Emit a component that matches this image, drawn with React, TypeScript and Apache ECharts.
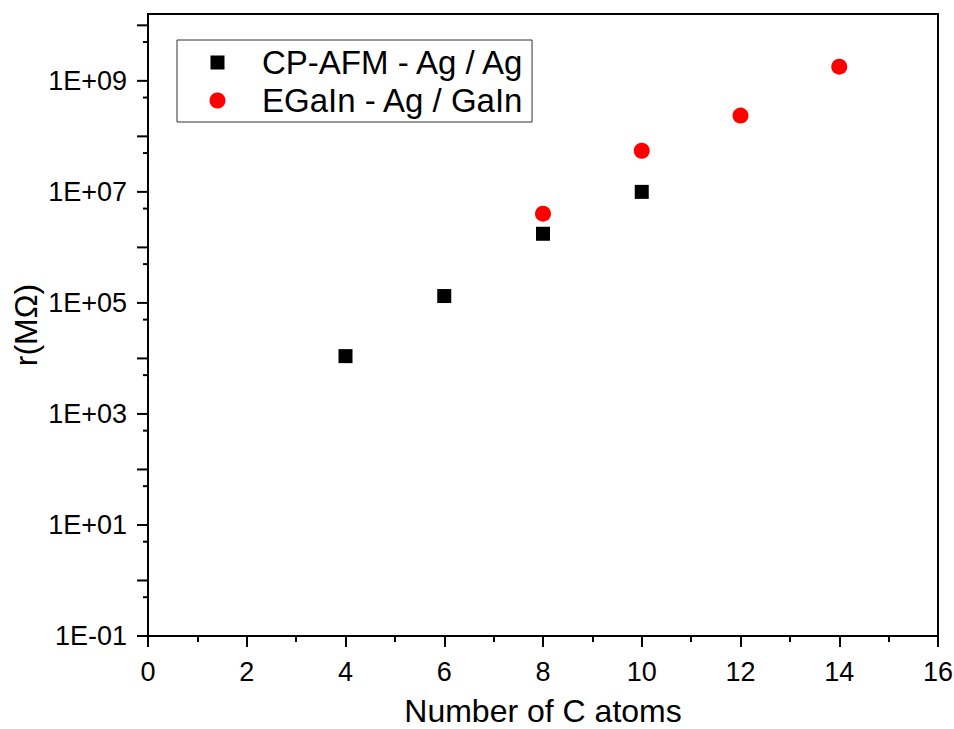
import React, { useEffect, useRef } from "react";
import * as echarts from "echarts";

// ---- data ----
const cpafmName = "CP-AFM - Ag / Ag";
const egainName = "EGaIn - Ag / GaIn";
const cpafmX = [4, 6, 8, 10];
const cpafmY = [1.1e4, 1.33e5, 1.76e6, 1.0e7];
const egainX = [8, 10, 12, 14];
const egainY = [4.05e6, 5.5e7, 2.37e8, 1.8e9];

// axis ranges & tick values
const xMin = 0;
const xMax = 16;
const xInterval = 2;
const yMin = 0.1;
const yMax = 1.6e10;
const yMajorTicks = [1e-1, 1e0, 1e1, 1e2, 1e3, 1e4, 1e5, 1e6, 1e7, 1e8, 1e9, 1e10];
const yMinorTicks = [5e-1, 5e0, 5e1, 5e2, 5e3, 5e4, 5e5, 5e6, 5e7, 5e8, 5e9];
const yLabelExponents = [-1, 1, 3, 5, 7, 9];

const xTitle = "Number of C atoms";
const yTitle = "r(MΩ)";

const FONT = '"Liberation Sans", Arial, Helvetica, sans-serif';

function fmtExp(v: number): string {
  const e = Math.round(v);
  if (Math.abs(v - e) > 1e-6) return "";
  if (yLabelExponents.indexOf(e) < 0) return "";
  const a = Math.abs(e);
  return "1E" + (e < 0 ? "-" : "+") + (a < 10 ? "0" : "") + a;
}

const squareIcon =
  "path://M0,0h0.01v0.01h-0.01z M78.99,15.99h0.01v0.01h-0.01z M32.5,1h14v14h-14z";

export default function App() {
  const ref = useRef<HTMLDivElement>(null);
  useEffect(() => {
    document.body.style.margin = "0";
    if (!ref.current) return;
    const chart = echarts.init(ref.current, undefined, { renderer: "svg" });
    const tickSeries = (vals: number[], len: number) => ({
      type: "custom",
      coordinateSystem: "cartesian2d",
      yAxisIndex: 0,
      clip: false,
      silent: true,
      z: 5,
      data: vals.map((v) => [xMin, v]),
      renderItem: (params: any, api: any) => {
        const p = api.coord([api.value(0), api.value(1)]);
        return {
          type: "line",
          shape: { x1: p[0] - len, y1: p[1], x2: p[0], y2: p[1] },
          style: { stroke: "#000", lineWidth: 2 },
        };
      },
    });
    chart.setOption({
      animation: false,
      backgroundColor: "#fff",
      textStyle: { fontFamily: FONT },
      grid: {
        left: 148,
        right: 16,
        top: 14,
        bottom: 93,
        show: true,
        borderColor: "#000",
        borderWidth: 2,
        containLabel: false,
        outerBoundsMode: "none",
      },
      legend: {
        left: 177,
        top: 40,
        orient: "vertical",
        itemWidth: 79,
        itemHeight: 16,
        itemGap: 5,
        padding: [6, 6, 5, 1],
        borderColor: "#333",
        borderWidth: 1,
        borderRadius: 0,
        selectedMode: false,
        textStyle: { fontSize: 33, color: "#000", fontFamily: FONT },
        data: [
          { name: cpafmName, icon: squareIcon },
          { name: egainName, icon: "circle" },
        ],
      },
      xAxis: {
        type: "value",
        min: xMin,
        max: xMax,
        interval: xInterval,
        name: xTitle,
        nameLocation: "middle",
        nameGap: 61,
        nameTextStyle: { fontSize: 32, lineHeight: 28, color: "#000", fontFamily: FONT },
        axisLine: { show: true, onZero: false, lineStyle: { color: "#000", width: 2 } },
        axisTick: { show: true, inside: false, length: 11, lineStyle: { color: "#000", width: 2 } },
        minorTick: { show: true, splitNumber: 2, length: 6, lineStyle: { color: "#000", width: 2 } },
        axisLabel: { fontSize: 27, color: "#000", margin: 22, fontFamily: FONT },
        splitLine: { show: false },
      },
      yAxis: [
        {
          type: "log",
          logBase: 10,
          min: yMin,
          max: yMax,
          position: "left",
          name: yTitle,
          nameLocation: "middle",
          nameGap: 106,
          nameTextStyle: { fontSize: 32, color: "#000", fontFamily: FONT },
          axisLine: { show: true, onZero: false, lineStyle: { color: "#000", width: 2 } },
          axisTick: { show: false },
          axisLabel: { show: false },
          splitLine: { show: false },
        },
        {
          // label-only companion axis in decades (log10 of the left axis)
          type: "value",
          position: "left",
          min: Math.log10(yMin),
          max: Math.log10(yMax),
          interval: 1,
          axisLine: { show: false, onZero: false },
          axisTick: { show: false },
          splitLine: { show: false },
          axisLabel: {
            fontSize: 27,
            color: "#000",
            margin: 21,
            fontFamily: FONT,
            showMaxLabel: false,
            formatter: (v: number) => fmtExp(v),
          },
        },
      ],
      series: [
        {
          name: cpafmName,
          type: "scatter",
          yAxisIndex: 0,
          symbol: "rect",
          symbolSize: 14,
          itemStyle: { color: "#000", opacity: 1 },
          data: cpafmX.map((x, i) => [x, cpafmY[i]]),
          z: 3,
        },
        {
          name: egainName,
          type: "scatter",
          yAxisIndex: 0,
          symbol: "circle",
          symbolSize: 16,
          itemStyle: { color: "#ff0000", opacity: 1 },
          data: egainX.map((x, i) => [x, egainY[i]]),
          z: 3,
        },
        tickSeries(yMajorTicks, 11),
        tickSeries(yMinorTicks, 5),
      ],
    });
    return () => chart.dispose();
  }, []);
  return <div ref={ref} style={{ width: 954, height: 729 }} />;
}
